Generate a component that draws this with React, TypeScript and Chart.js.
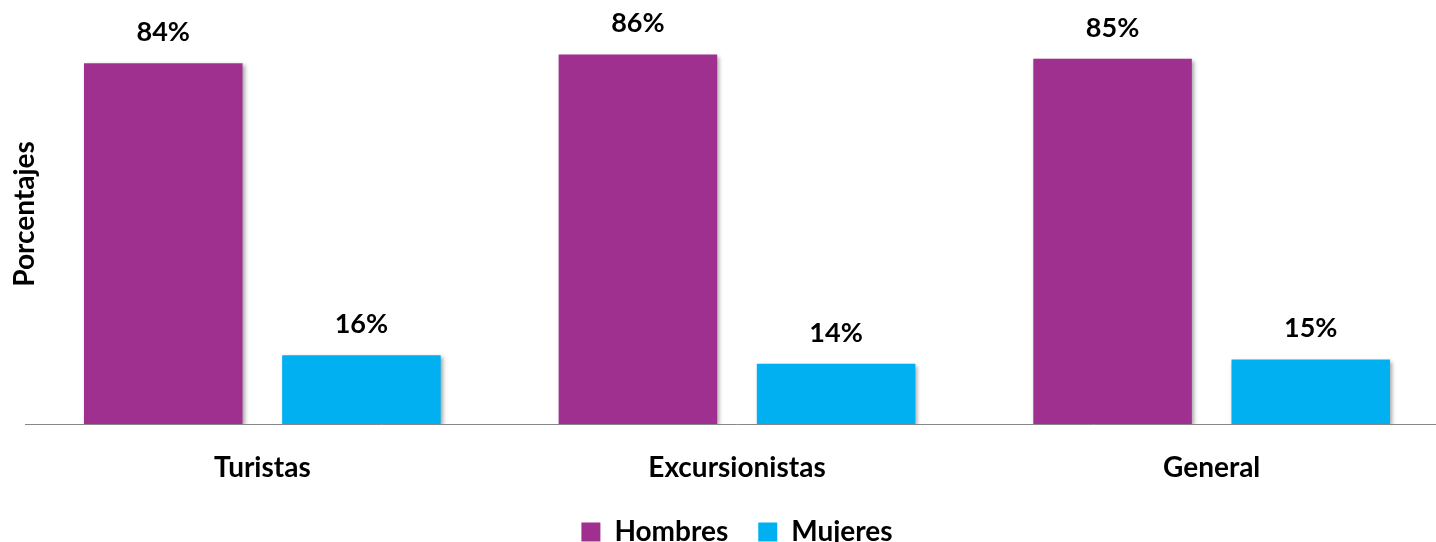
import React, { useEffect, useRef } from "react";
import { Chart, registerables } from "chart.js";

Chart.register(...registerables);

const categories = ["Turistas", "Excursionistas", "General"];
const hombres = [84, 86, 85];
const mujeres = [16, 14, 15];
const seriesNames = ["Hombres", "Mujeres"];
const yTitle = "Porcentajes";

const FONT = "Lato";
const PURPLE = "#A0308F";
const BLUE = "#00B0F0";

const shadowPlugin = {
  id: "barShadow",
  beforeDatasetsDraw(chart: any) {
    const ctx = chart.ctx;
    ctx.save();
    ctx.shadowColor = "rgba(0,0,0,0.35)";
    ctx.shadowBlur = 4;
    ctx.shadowOffsetX = 2;
    ctx.shadowOffsetY = 2;
  },
  afterDatasetsDraw(chart: any) {
    chart.ctx.restore();
  },
};

const labelsPlugin = {
  id: "valueLabels",
  afterDraw(chart: any) {
    const ctx = chart.ctx;
    ctx.save();
    ctx.font = `bold 27px ${FONT}`;
    ctx.fillStyle = "#000";
    ctx.textAlign = "center";
    ctx.textBaseline = "middle";
    chart.data.datasets.forEach((ds: any, i: number) => {
      const meta = chart.getDatasetMeta(i);
      meta.data.forEach((bar: any, j: number) => {
        ctx.fillText(ds.data[j] + "%", bar.x, bar.y - 31);
      });
    });
    // y-axis title
    ctx.font = `bold 28px ${FONT}`;
    ctx.translate(25, 214);
    ctx.rotate(-Math.PI / 2);
    ctx.fillText(yTitle, 0, 0);
    ctx.restore();
  },
};

export default function App() {
  const ref = useRef<HTMLCanvasElement>(null);
  useEffect(() => {
    document.body.style.margin = "0";
    document.body.style.overflow = "hidden";
    const chart = new Chart(ref.current!, {
      type: "bar",
      data: {
        labels: categories,
        datasets: [
          { label: seriesNames[0], data: hombres, backgroundColor: PURPLE },
          { label: seriesNames[1], data: mujeres, backgroundColor: BLUE },
        ],
      },
      options: {
        responsive: false,
        animation: false,
        layout: { padding: { left: 25, right: 0, top: 0, bottom: 0 } },
        datasets: {
          bar: { categoryPercentage: 0.835, barPercentage: 0.8 },
        },
        scales: {
          x: {
            grid: { display: false },
            border: { display: true, color: "#888", width: 1 },
            ticks: {
              color: "#000",
              padding: 19,
              font: { family: FONT, weight: "bold", size: 28 },
            },
            afterFit(scale: any) {
              scale.height = 64;
            },
          },
          y: { display: false, min: 0, max: 98.7 },
        },
        plugins: {
          legend: {
            position: "bottom",
            labels: {
              boxWidth: 19,
              boxHeight: 19,
              padding: 30,
              color: "#000",
              font: { family: FONT, weight: "bold", size: 28 },
            },
          },
          tooltip: { enabled: false },
        },
      },
      plugins: [shadowPlugin, labelsPlugin],
    });
    return () => chart.destroy();
  }, []);
  return (
    <div style={{ width: 1436, height: 542, overflow: "hidden", background: "#fff" }}>
      <canvas ref={ref} width={1449} height={556} />
    </div>
  );
}
